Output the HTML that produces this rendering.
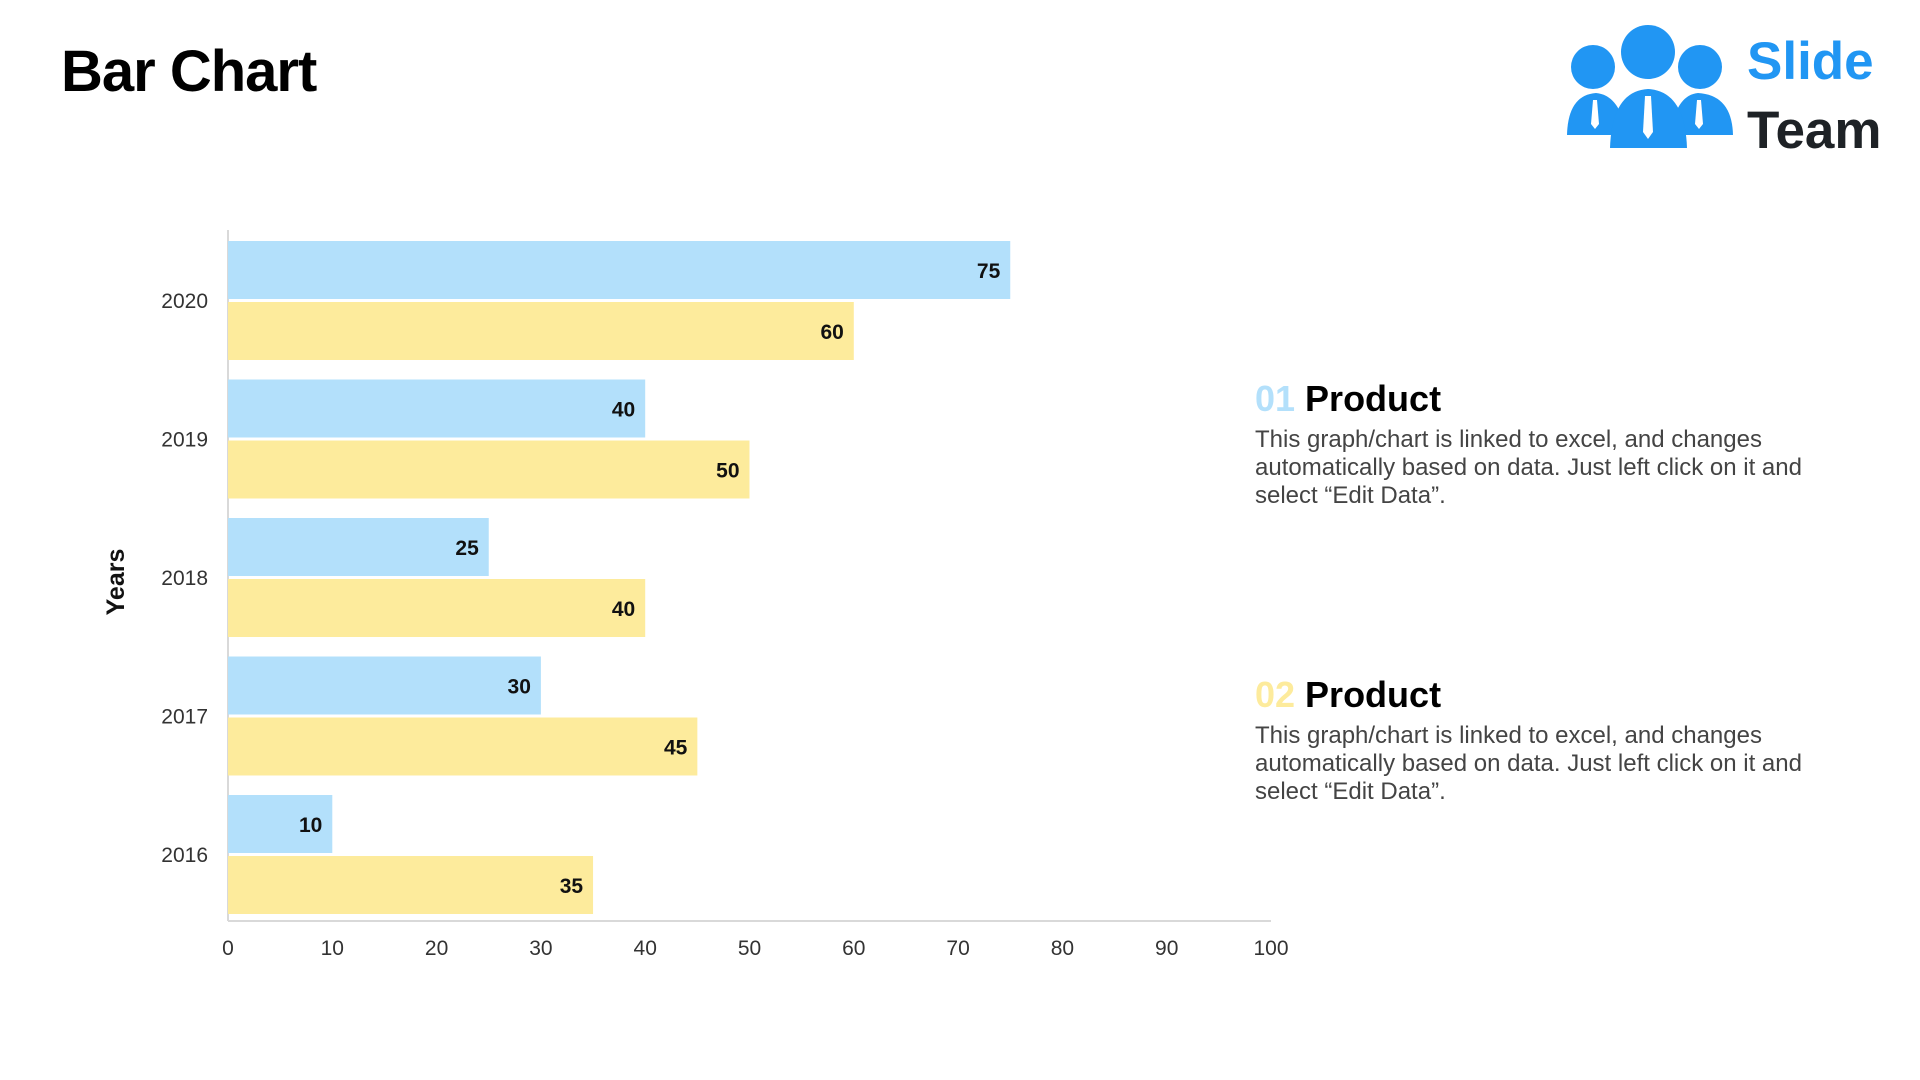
<!DOCTYPE html>
<html><head><meta charset="utf-8"><style>
body{margin:0;width:1920px;height:1080px;background:#fff;overflow:hidden;font-family:"Liberation Sans",sans-serif;position:relative}
.t{position:absolute}
</style></head><body>
<div class="t" style="left:61px;top:38px;font-size:58px;font-weight:bold;letter-spacing:-1px;color:#000">Bar Chart</div>
<svg class="t" style="left:1560px;top:20px" width="360" height="150">
<g fill="#2196f3">
<circle cx="33" cy="47" r="22"/><circle cx="88" cy="32" r="27"/><circle cx="140" cy="47" r="22"/>
<path d="M7 115 Q8 75 36 73 Q60 75 67 115 Z"/>
<path d="M110 115 Q116 75 138 73 Q172 75 173 115 Z"/>
<path d="M50 128 Q52 71 88 69 Q125 71 127 128 Z"/>
</g>
<g fill="#fff"><path d="M85 76 L91 76 L93 112 L88 119 L83 112 Z"/><path d="M33 80 L37 80 L39 104 L35 109 L31 104 Z"/><path d="M137 80 L141 80 L143 104 L139 109 L135 104 Z"/></g>
<text x="187" y="59" font-size="53" font-weight="bold" fill="#2196f3" font-family="Liberation Sans">Slide</text>
<text x="187" y="128" font-size="53" font-weight="bold" fill="#1e2226" font-family="Liberation Sans">Team</text>
</svg>
<svg id="chart" class="t" style="left:0;top:0" width="1300" height="1000"></svg>
<div class="t" style="left:1255px;top:378px;width:640px">
<div style="font-size:36px;font-weight:bold;color:#000"><span style="color:#b3e0fb">01</span> Product</div>
<div style="font-size:24px;color:#444;line-height:28px;margin-top:6px">This graph/chart is linked to excel, and changes<br>automatically based on data. Just left click on it and<br>select “Edit Data”.</div></div>
<div class="t" style="left:1255px;top:674px;width:640px">
<div style="font-size:36px;font-weight:bold;color:#000"><span style="color:#fdeb9c">02</span> Product</div>
<div style="font-size:24px;color:#444;line-height:28px;margin-top:6px">This graph/chart is linked to excel, and changes<br>automatically based on data. Just left click on it and<br>select “Edit Data”.</div></div>
<script>
const categories=["2020","2019","2018","2017","2016"];
const product1=[75,40,25,30,10];
const product2=[60,50,40,45,35];
const ticks=[0,10,20,30,40,50,60,70,80,90,100];
const svg=document.getElementById('chart');
const NS='http://www.w3.org/2000/svg';
const x0=228,x1=1271,yTop=236,yBot=921;
const xs=v=>x0+(x1-x0)*v/100;
const band=138.5;
function mk(t,a){const e=document.createElementNS(NS,t);for(const k in a)e.setAttribute(k,a[k]);svg.appendChild(e);return e;}
let ax=mk('line',{x1:x0,y1:yBot,x2:x1,y2:yBot,stroke:'#d9d9d9','stroke-width':2});


let ay=mk('line',{x1:x0,y1:230,x2:x0,y2:yBot,stroke:'#d9d9d9','stroke-width':2});


ticks.forEach(t=>{const e=mk('text',{x:xs(t),y:955,'text-anchor':'middle','font-size':21,fill:'#333','font-family':'Liberation Sans'});e.textContent=t;

});
categories.forEach((c,i)=>{
 const y=yTop+i*band+5;
 const l=mk('text',{x:208,y:y+67,'text-anchor':'end','font-size':21,fill:'#333','font-family':'Liberation Sans'});l.textContent=c;
 
 
 [[product1[i],'#b3e0fb',y],[product2[i],'#fdeb9c',y+61]].forEach(([v,col,by],k)=>{
  const r=mk('rect',{x:x0,y:by,width:xs(v)-x0,height:58,fill:col});
  
  
  const t=mk('text',{x:xs(v)-10,y:by+37,'text-anchor':'end','font-size':21,'font-weight':'bold',fill:'#111','font-family':'Liberation Sans'});t.textContent=v;
  
  
 });
});
const yt=mk('text',{x:0,y:0,transform:'translate(124,582) rotate(-90)','text-anchor':'middle','font-size':25,'font-weight':'bold',fill:'#111','font-family':'Liberation Sans'});yt.textContent='Years';


</script>
</body></html>
